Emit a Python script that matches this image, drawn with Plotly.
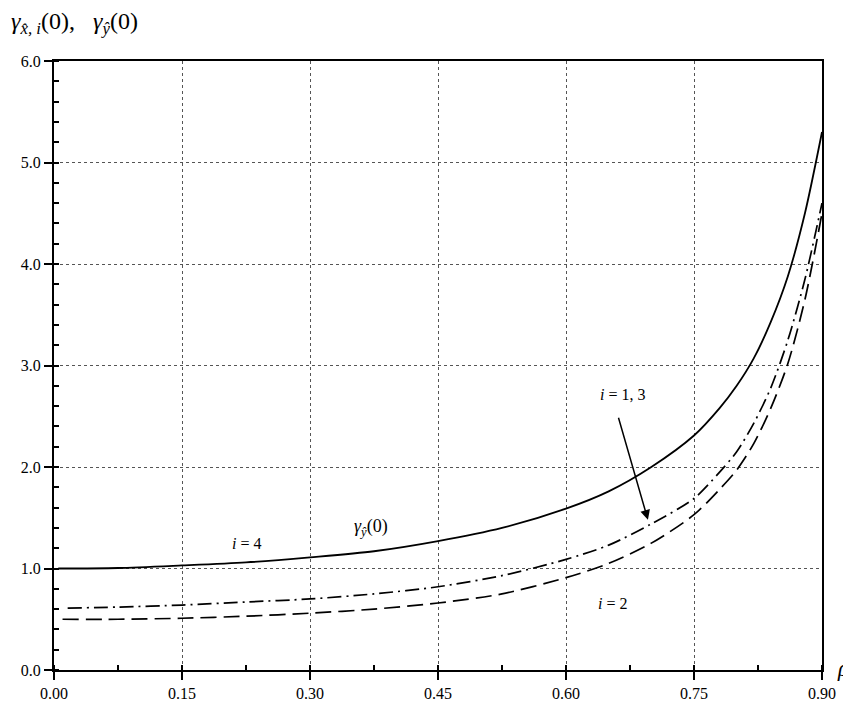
import plotly.graph_objects as go

rho_solid = [0.005, 0.075, 0.15, 0.225, 0.30, 0.375, 0.45, 0.525, 0.60, 0.65, 0.70, 0.75, 0.78, 0.80, 0.82, 0.84, 0.86, 0.88, 0.90]
gamma_y = [1.00, 1.005, 1.03, 1.06, 1.11, 1.17, 1.27, 1.40, 1.59, 1.76, 2.00, 2.31, 2.58, 2.80, 3.07, 3.43, 3.88, 4.50, 5.30]

rho_i13 = [0.016, 0.075, 0.15, 0.225, 0.30, 0.375, 0.45, 0.525, 0.60, 0.65, 0.70, 0.75, 0.78, 0.80, 0.82, 0.84, 0.86, 0.88, 0.90]
gamma_i13 = [0.61, 0.62, 0.64, 0.67, 0.70, 0.75, 0.82, 0.93, 1.09, 1.23, 1.44, 1.69, 1.95, 2.15, 2.43, 2.78, 3.25, 3.85, 4.60]

rho_i2 = [0.01, 0.075, 0.15, 0.225, 0.30, 0.375, 0.45, 0.525, 0.60, 0.65, 0.70, 0.75, 0.78, 0.80, 0.82, 0.84, 0.86, 0.88, 0.90]
gamma_i2 = [0.50, 0.50, 0.51, 0.53, 0.56, 0.60, 0.66, 0.75, 0.91, 1.05, 1.25, 1.53, 1.78, 1.97, 2.23, 2.58, 3.02, 3.65, 4.50]

x_ticks = [0.00, 0.15, 0.30, 0.45, 0.60, 0.75, 0.90]
x_tick_labels = ["0.00", "0.15", "0.30", "0.45", "0.60", "0.75", "0.90"]
y_ticks = [0, 1, 2, 3, 4, 5, 6]
y_tick_labels = ["0.0", "1.0", "2.0", "3.0", "4.0", "5.0", "6.0"]

SERIF = '"Liberation Serif", "Times New Roman", serif'

fig = go.Figure()
fig.add_trace(go.Scatter(x=rho_solid, y=gamma_y, mode="lines",
                         line=dict(color="black", width=1.8, shape="spline", smoothing=0.8), showlegend=False))
fig.add_trace(go.Scatter(x=rho_i13, y=gamma_i13, mode="lines",
                         line=dict(color="black", width=1.7, dash="14px,5px,2px,5px", shape="spline", smoothing=0.8), showlegend=False))
fig.add_trace(go.Scatter(x=rho_i2, y=gamma_i2, mode="lines",
                         line=dict(color="black", width=1.7, dash="16px,7px", shape="spline", smoothing=0.8), showlegend=False))

axis_common = dict(
    showline=True, linecolor="black", linewidth=2, mirror=True,
    showgrid=True, gridcolor="#555", gridwidth=1, griddash="dot",
    ticks="outside", ticklen=8, tickwidth=1.5, tickcolor="black",
    zeroline=False,
    tickfont=dict(family=SERIF, size=16, color="black"),
)

fig.update_layout(
    width=851, height=707,
    margin=dict(l=46, r=37, t=53, b=45),
    paper_bgcolor="white", plot_bgcolor="white",
    xaxis=dict(range=[0, 0.9], tickvals=x_ticks, ticktext=x_tick_labels,
               minor=dict(ticks="inside", dtick=0.075, ticklen=5, tickcolor="black", showgrid=False),
               **axis_common),
    yaxis=dict(range=[0, 6], tickvals=y_ticks, ticktext=y_tick_labels,
               minor=dict(ticks="inside", dtick=0.2, ticklen=5, tickcolor="black", showgrid=False),
               **axis_common),
    font=dict(family=SERIF, color="black"),
)

annots = [
    dict(x=0.226, y=1.25, text="<i>i</i> = 4", showarrow=False, font=dict(family=SERIF, size=16)),
    dict(x=0.372, y=1.40, text="<i>γ<sub>ŷ</sub></i>(0)", showarrow=False, font=dict(family=SERIF, size=18)),
    dict(x=0.666, y=2.71, text="<i>i</i> = 1, 3", showarrow=False, font=dict(family=SERIF, size=16)),
    dict(x=0.655, y=0.66, text="<i>i</i> = 2", showarrow=False, font=dict(family=SERIF, size=16)),
    dict(x=0.696, y=1.48, ax=0.661, ay=2.50, axref="x", ayref="y", text="", showarrow=True,
         arrowhead=2, arrowsize=1.3, arrowwidth=1.5, arrowcolor="black"),
    dict(x=-0.058, y=1.062, xref="paper", yref="paper", xanchor="left", yanchor="middle",
         text="<i>γ<sub>x̂, i</sub></i>(0),&nbsp;&nbsp; <i>γ<sub>ŷ</sub></i>(0)", showarrow=False,
         font=dict(family=SERIF, size=24)),
    dict(x=1.027, y=0.002, xref="paper", yref="paper", xanchor="center", yanchor="middle",
         text="<i>ρ</i>", showarrow=False, font=dict(family=SERIF, size=23)),
]
for a in annots:
    if "xref" not in a:
        a["xref"] = "x"; a["yref"] = "y"
    fig.add_annotation(**a)

fig.write_html("out.html")
